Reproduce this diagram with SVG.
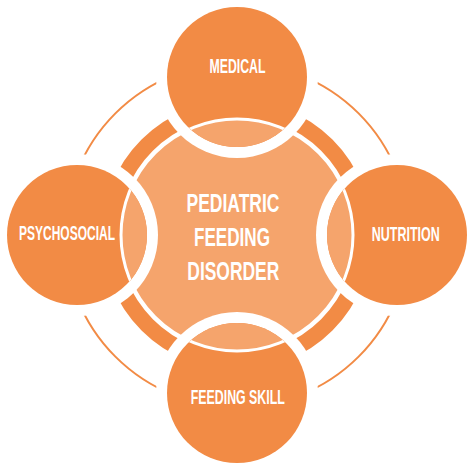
<svg xmlns="http://www.w3.org/2000/svg" width="474" height="468" viewBox="0 0 474 468">
<style>
.sat{fill:#F28B45}
.halo{fill:#fff}
.arc{fill:none;stroke:#F28B45}
.lbl{font-family:"Liberation Sans",Arial,sans-serif;font-weight:bold;fill:#fff;text-anchor:middle}
.s{font-size:19.5px}
.c{font-size:25px}
</style>
<defs>
<circle id="disc" cx="237" cy="235" r="116" fill="#F5A46C" stroke="#fff" stroke-width="3"/>
<clipPath id="clipMed"><circle cx="237" cy="77" r="70"/></clipPath>
<clipPath id="clipPsy"><circle cx="77" cy="235" r="70"/></clipPath>
<clipPath id="clipNut"><circle cx="397" cy="235" r="70"/></clipPath>
<clipPath id="clipFeed"><circle cx="237" cy="393" r="70"/></clipPath>
</defs>
<rect width="474" height="468" fill="#fff"/>
<g id="connectors">
<circle class="arc" cx="237" cy="235" r="172" stroke-width="2"/>
<circle class="arc" cx="237" cy="235" r="127" stroke-width="16"/>
</g>
<g id="center">
<use href="#disc"/>
<text class="lbl c" x="233" y="211.5" textLength="93" lengthAdjust="spacingAndGlyphs">PEDIATRIC</text>
<text class="lbl c" x="232" y="245.7" textLength="76" lengthAdjust="spacingAndGlyphs">FEEDING</text>
<text class="lbl c" x="233.3" y="280" textLength="92" lengthAdjust="spacingAndGlyphs">DISORDER</text>
</g>
<g id="medical">
<circle class="halo" cx="237" cy="77" r="81"/>
<circle class="sat" cx="237" cy="77" r="70"/>
<use href="#disc" clip-path="url(#clipMed)"/>
<text class="lbl s" x="237.5" y="73.3" textLength="56" lengthAdjust="spacingAndGlyphs">MEDICAL</text>
</g>
<g id="psychosocial">
<circle class="halo" cx="77" cy="235" r="81"/>
<circle class="sat" cx="77" cy="235" r="70"/>
<use href="#disc" clip-path="url(#clipPsy)"/>
<text class="lbl s" x="67" y="240" textLength="96" lengthAdjust="spacingAndGlyphs">PSYCHOSOCIAL</text>
</g>
<g id="nutrition">
<circle class="halo" cx="397" cy="235" r="81"/>
<circle class="sat" cx="397" cy="235" r="70"/>
<use href="#disc" clip-path="url(#clipNut)"/>
<text class="lbl s" x="405.8" y="240.5" textLength="68" lengthAdjust="spacingAndGlyphs">NUTRITION</text>
</g>
<g id="feeding-skill">
<circle class="halo" cx="237" cy="393" r="81"/>
<circle class="sat" cx="237" cy="393" r="70"/>
<use href="#disc" clip-path="url(#clipFeed)"/>
<text class="lbl s" x="237.8" y="404" textLength="94" lengthAdjust="spacingAndGlyphs">FEEDING SKILL</text>
</g>
</svg>
